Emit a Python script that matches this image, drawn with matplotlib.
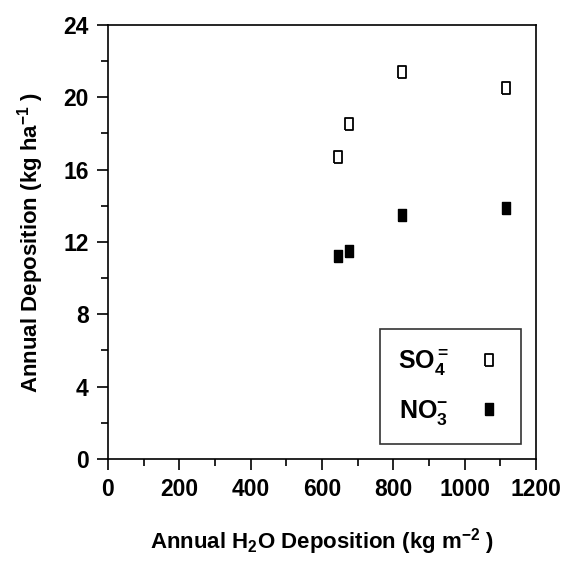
import numpy as np
import matplotlib
matplotlib.use('Agg')
import matplotlib.pyplot as plt
from matplotlib.ticker import MultipleLocator

plt.rcParams['font.family'] = 'Liberation Sans'
plt.rcParams['font.weight'] = 'bold'
plt.rcParams['axes.labelweight'] = 'bold'
plt.rcParams['mathtext.fontset'] = 'custom'
plt.rcParams['mathtext.rm'] = 'Liberation Sans:bold'
plt.rcParams['mathtext.it'] = 'Liberation Sans:bold'
plt.rcParams['mathtext.bf'] = 'Liberation Sans:bold'
plt.rcParams['mathtext.default'] = 'rm'

# water deposition (kg m-2) and annual deposition (kg ha-1)
h2o = [645, 676, 824, 1116]
so4 = [16.7, 18.5, 21.4, 20.5]
no3 = [11.2, 11.5, 13.5, 13.9]

fig = plt.figure(figsize=(5.61, 5.66), dpi=100)
ax = fig.add_axes([0.1925, 0.189, 0.763, 0.767])

rect = [(-0.6, -1), (0.6, -1), (0.6, 1), (-0.6, 1), (-0.6, -1)]
ax.plot(h2o, so4, linestyle='none', marker=rect, markersize=9,
        markerfacecolor='white', markeredgecolor='black', markeredgewidth=1.3,
        label=r'SO$_4^{=}$')
ax.plot(h2o, no3, linestyle='none', marker=rect, markersize=9,
        markerfacecolor='black', markeredgecolor='black',
        label=r'NO$_3^{-}$')

ax.set_xlim(0, 1200)
ax.set_ylim(0, 24)
ax.xaxis.set_major_locator(MultipleLocator(200))
ax.xaxis.set_minor_locator(MultipleLocator(100))
ax.yaxis.set_major_locator(MultipleLocator(4))
ax.yaxis.set_minor_locator(MultipleLocator(2))
ax.tick_params(which='both', direction='out', width=1.2, labelsize=16.5)
ax.tick_params(which='major', length=8, pad=6)
ax.tick_params(which='minor', length=5)
for s in ax.spines.values():
    s.set_linewidth(1.2)

ax.set_xlabel(r'Annual H$_2$O Deposition (kg m$^{-2}$ )', fontsize=16, labelpad=18)
ax.set_ylabel(r'Annual Deposition (kg ha$^{-1}$ )', fontsize=16, labelpad=12)

leg = ax.legend(loc='lower right', markerfirst=False, fontsize=18, frameon=True,
                fancybox=False, edgecolor='black', borderpad=0.7, labelspacing=0.8,
                handlelength=1.2, handletextpad=1.0, borderaxespad=0.6,
                markerscale=1.0)
leg.get_frame().set_linewidth(1.2)

fig.savefig('out.png', dpi=100)
